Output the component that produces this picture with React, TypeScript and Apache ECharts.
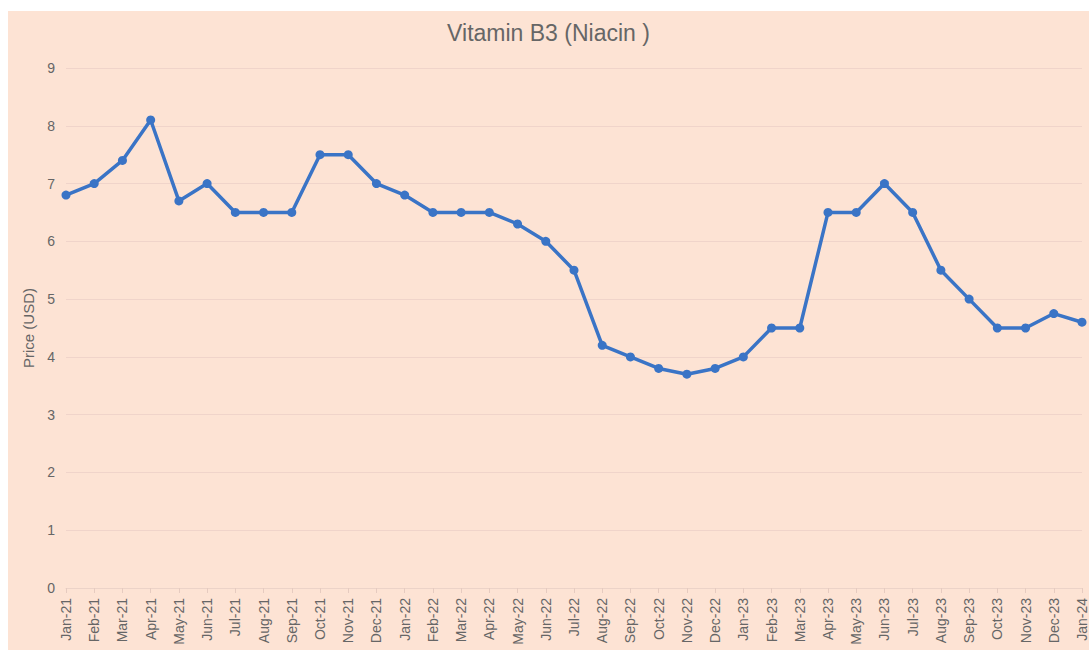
import React, { useEffect, useRef } from "react";
import * as echarts from "echarts";

const categories = [
  "Jan-21", "Feb-21", "Mar-21", "Apr-21", "May-21", "Jun-21", "Jul-21", "Aug-21", "Sep-21", "Oct-21", "Nov-21", "Dec-21",
  "Jan-22", "Feb-22", "Mar-22", "Apr-22", "May-22", "Jun-22", "Jul-22", "Aug-22", "Sep-22", "Oct-22", "Nov-22", "Dec-22",
  "Jan-23", "Feb-23", "Mar-23", "Apr-23", "May-23", "Jun-23", "Jul-23", "Aug-23", "Sep-23", "Oct-23", "Nov-23", "Dec-23",
  "Jan-24",
];

const prices = [
  6.8, 7.0, 7.4, 8.1, 6.7, 7.0, 6.5, 6.5, 6.5, 7.5, 7.5, 7.0,
  6.8, 6.5, 6.5, 6.5, 6.3, 6.0, 5.5, 4.2, 4.0, 3.8, 3.7, 3.8,
  4.0, 4.5, 4.5, 6.5, 6.5, 7.0, 6.5, 5.5, 5.0, 4.5, 4.5, 4.75,
  4.6,
];

const titleText = "Vitamin B3 (Niacin )";
const yAxisName = "Price (USD)";

export default function App() {
  const ref = useRef<HTMLDivElement>(null);
  useEffect(() => {
    if (!ref.current) return;
    const chart = echarts.init(ref.current, undefined, { renderer: "svg" });
    chart.setOption({
      animation: false,
      backgroundColor: "#fde3d4",
      textStyle: { fontFamily: "Liberation Sans, Arial, sans-serif" },
      title: {
        text: titleText,
        left: "center",
        top: 5,
        textStyle: { fontSize: 23, fontWeight: "normal", color: "#666666" },
      },
      grid: { left: 58, right: 6, top: 57, bottom: 62, containLabel: false },
      xAxis: {
        type: "category",
        data: categories,
        boundaryGap: false,
        axisLine: { show: true, lineStyle: { color: "#ecd3c8", width: 1 } },
        axisTick: { show: true, alignWithLabel: true, length: 5, lineStyle: { color: "#e6cbc0" } },
        axisLabel: { rotate: 90, interval: 0, color: "#666666", fontSize: 14, margin: 10 },
        splitLine: { show: false },
      },
      yAxis: {
        type: "value",
        min: 0,
        max: 9,
        interval: 1,
        name: yAxisName,
        nameLocation: "middle",
        nameGap: 24,
        nameTextStyle: { color: "#666666", fontSize: 15 },
        axisLine: { show: false },
        axisTick: { show: false },
        axisLabel: { color: "#666666", fontSize: 14, margin: 11 },
        splitLine: { lineStyle: { color: "#f0d4ca", width: 1 } },
      },
      series: [
        {
          type: "line",
          data: prices,
          symbol: "circle",
          symbolSize: 9,
          lineStyle: { color: "#3a74c6", width: 3.5 },
          itemStyle: { color: "#3a74c6" },
        },
      ],
    });
    return () => chart.dispose();
  }, []);
  return (
    <div
      ref={ref}
      style={{ position: "fixed", left: 8, top: 11, width: 1081, height: 639 }}
    />
  );
}
